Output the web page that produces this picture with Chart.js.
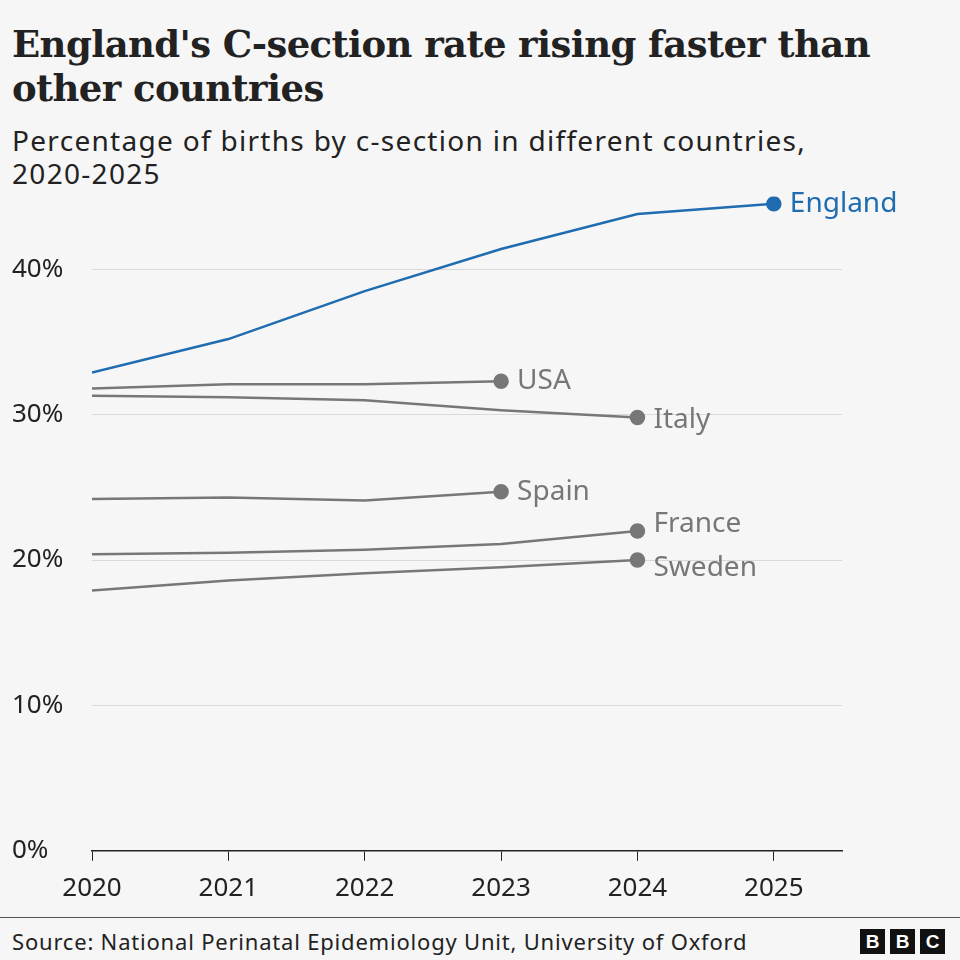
<!DOCTYPE html>
<html><head><meta charset="utf-8">
<script src="https://cdn.jsdelivr.net/npm/chart.js@4/dist/chart.umd.min.js"></script>
<style>
body{margin:0;width:960px;height:960px;background:#f6f6f6;position:relative;overflow:hidden;font-family:"Noto Sans",sans-serif}
#t{position:absolute;left:12px;top:22px;font:bold 37px "DejaVu Serif",serif;color:#222;line-height:44px;letter-spacing:-0.6px}
#s{position:absolute;left:12px;top:124px;font-size:28px;color:#222;line-height:33px;letter-spacing:1.3px}
#c{position:absolute;left:0;top:181px;width:960px;height:735px}
#f{position:absolute;left:0;right:0;top:917px;border-top:1px solid #555}
#src{position:absolute;left:12px;top:926px;font-size:22px;color:#222;letter-spacing:0.8px}
.b{position:absolute;top:929px;width:25px;height:25px;background:#111;color:#fff;font:bold 19px "Liberation Sans";text-align:center;line-height:25px}
</style></head><body>
<div id="t">England's C-section rate rising faster than<br>other countries</div>
<div id="s">Percentage of births by c-section in different countries,<br>2020-2025</div>
<div id="c"><canvas id="cv"></canvas></div>
<div id="f"></div>
<div id="src">Source: National Perinatal Epidemiology Unit, University of Oxford</div>
<div class="b" style="left:860px">B</div><div class="b" style="left:890px">B</div><div class="b" style="left:920px">C</div>
<script>
const years=[2020,2021,2022,2023,2024,2025];
const england=[32.9,35.2,38.5,41.4,43.8,44.5];
const usa=[31.8,32.1,32.1,32.3];
const italy=[31.3,31.2,31.0,30.3,29.8];
const spain=[24.2,24.3,24.1,24.7];
const france=[20.4,20.5,20.7,21.1,22.0];
const sweden=[17.9,18.6,19.1,19.5,20.0];
const yTicks=[0,10,20,30,40];
const series=[["England",england,"#1f6cb0",0],["USA",usa,"#777",0],["Italy",italy,"#777",2],["Spain",spain,"#777",0],["France",france,"#777",-7],["Sweden",sweden,"#777",8]];
const labelPlugin={id:'lab',afterDatasetsDraw(ch){const c=ch.ctx;ch.data.datasets.forEach((d,i)=>{const m=ch.getDatasetMeta(i);const p=m.data[m.data.length-1];c.save();c.fillStyle=d.borderColor;c.font='28px "Noto Sans"';c.textBaseline='middle';c.fillText(d.label,p.x+16,p.y+d.dy);c.restore();});}};
new Chart(document.getElementById('cv'),{type:'line',
data:{datasets:series.map(s=>({label:s[0],dy:s[3],data:s[1].map((v,i)=>({x:years[i],y:v})),borderColor:s[2],backgroundColor:s[2],borderWidth:2.5,tension:0,pointRadius:s[1].map((v,i)=>i===s[1].length-1?6.5:0),pointHoverRadius:0}))},
plugins:[labelPlugin],
options:{responsive:true,maintainAspectRatio:false,animation:false,layout:{padding:{left:12,right:118,top:0,bottom:0}},
plugins:{legend:{display:false},tooltip:{enabled:false}},
scales:{x:{type:'linear',min:2020,max:2025.5,afterBuildTicks:a=>{a.ticks=years.map(v=>({value:v}));},
ticks:{font:{size:26,family:'Noto Sans'},color:'#222',padding:12,callback:v=>String(v)},
grid:{display:true,drawOnChartArea:false,drawTicks:true,tickLength:10,color:'#222'},border:{color:'#222',width:1.5}},
y:{min:0,max:45,afterBuildTicks:a=>{a.ticks=yTicks.map(v=>({value:v}));},afterFit:a=>{a.width=80;},
ticks:{font:{size:26,family:'Noto Sans'},color:'#222',align:'center',crossAlign:'far',padding:0,callback:v=>v+'%'},
grid:{color:'#d9d9d9',drawTicks:false},border:{display:false}}}}});
</script></body></html>
